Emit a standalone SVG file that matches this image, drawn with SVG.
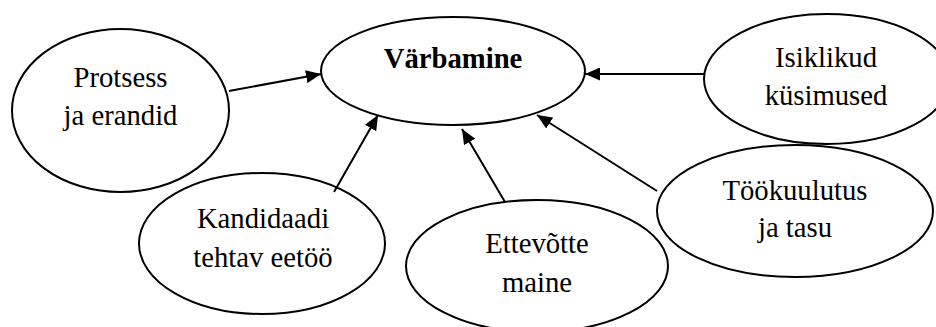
<svg xmlns="http://www.w3.org/2000/svg" width="936" height="327" viewBox="0 0 936 327">
  <style>
    .node ellipse { fill: #ffffff; stroke: #000000; stroke-width: 2; }
    .node text { font-family: "Liberation Serif", "Times New Roman", serif; font-size: 28.7px; fill: #000000; text-anchor: middle; }
    .node text.title { font-weight: bold; }
    .edges line { stroke: #000000; stroke-width: 2; marker-end: url(#arrow); }
  </style>
  <defs>
    <marker id="arrow" markerUnits="userSpaceOnUse" markerWidth="16" markerHeight="13" refX="15" refY="6.5" orient="auto">
      <path d="M0,0 L15,6.5 L0,13 z" fill="#000000"/>
    </marker>
  </defs>
  <rect width="936" height="327" fill="#ffffff"/>

  <!-- nodes -->
  <g id="node-varbamine" class="node">
    <ellipse cx="453" cy="71" rx="132" ry="54"/>
    <text class="title" x="453" y="68">Värbamine</text>
  </g>
  <g id="node-protsess" class="node">
    <ellipse cx="120.5" cy="110.5" rx="108.5" ry="81.5"/>
    <text x="120.5" y="87">Protsess</text>
    <text x="120.5" y="125">ja erandid</text>
  </g>
  <g id="node-isiklikud" class="node">
    <ellipse cx="827" cy="79" rx="123" ry="65"/>
    <text x="826" y="67">Isiklikud</text>
    <text x="826" y="105">küsimused</text>
  </g>
  <g id="node-kandidaadi" class="node">
    <ellipse cx="262" cy="243.5" rx="123" ry="70.5"/>
    <text x="263" y="228">Kandidaadi</text>
    <text x="263" y="267">tehtav eetöö</text>
  </g>
  <g id="node-ettevotte" class="node">
    <ellipse cx="537" cy="266" rx="131" ry="66"/>
    <text x="537" y="253">Ettevõtte</text>
    <text x="537" y="292">maine</text>
  </g>
  <g id="node-tookuulutus" class="node">
    <ellipse cx="795" cy="211" rx="138" ry="66"/>
    <text x="795" y="200">Töökuulutus</text>
    <text x="795" y="237">ja tasu</text>
  </g>

  <!-- connectors -->
  <g id="edges" class="edges">
    <line x1="229" y1="91" x2="321" y2="74"/>
    <line x1="704" y1="74" x2="585" y2="74"/>
    <line x1="334" y1="192" x2="378" y2="115"/>
    <line x1="505" y1="202" x2="462" y2="129"/>
    <line x1="657" y1="191" x2="537" y2="115"/>
  </g>
</svg>
